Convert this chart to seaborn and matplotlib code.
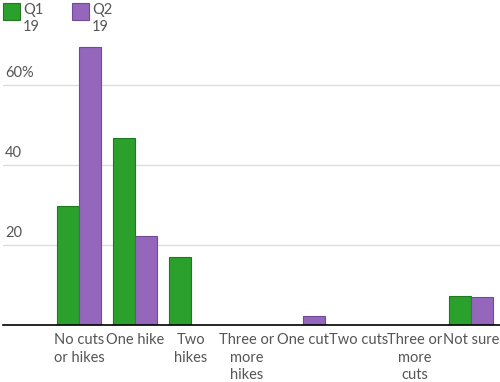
import matplotlib
matplotlib.use("Agg")
import matplotlib.pyplot as plt
import matplotlib.transforms as mtransforms
from matplotlib.patches import Rectangle
import seaborn as sns
import pandas as pd

categories = ["No cuts\nor hikes", "One hike", "Two\nhikes", "Three or\nmore\nhikes",
              "One cut", "Two cuts", "Three or\nmore\ncuts", "Not sure"]
q1_values = [29.8, 46.8, 17.0, 0, 0, 0, 0, 7.3]
q2_values = [69.5, 22.3, 0, 0, 2.3, 0, 0, 6.9]
series = ["Q1 19", "Q2 19"]
colors = ["#2ca02c", "#9467bd"]
edges = ["#1f7a1f", "#6f4a96"]
yticks = [20, 40, 60]
ytick_labels = ["20", "40", "60%"]

df = pd.DataFrame({
    "answer": categories * 2,
    "value": q1_values + q2_values,
    "quarter": [series[0]] * len(categories) + [series[1]] * len(categories),
})

sns.set_style("white")
plt.rcParams["font.family"] = ["Lato", "DejaVu Sans"]
text_color = "#555555"

fig = plt.figure(figsize=(5, 3.82), dpi=100)
ax = fig.add_axes([0.006, 57 / 382, 0.994, 288 / 382])

sns.barplot(data=df, x="answer", y="value", hue="quarter", palette=colors,
            width=0.786, ax=ax, legend=False, saturation=1)

for cont, ec in zip(ax.containers, edges):
    for bar in cont:
        if bar.get_height() > 0:
            bar.set_edgecolor(ec)
            bar.set_linewidth(0.8)
        else:
            bar.set_linewidth(0)

ax.set_xlim(-1.357, 7.52)
ax.set_ylim(0, 72)
ax.set_yticks(yticks)
ax.set_yticklabels([])
ax.tick_params(axis="y", length=0)
ax.yaxis.grid(True, color="#dddddd", linewidth=1)
ax.set_axisbelow(True)
for s in ["top", "right", "left"]:
    ax.spines[s].set_visible(False)
ax.spines["bottom"].set_color("black")
ax.spines["bottom"].set_linewidth(1.2)

trans = mtransforms.blended_transform_factory(ax.transAxes, ax.transData)
for v, lab in zip(yticks, ytick_labels):
    ax.text(0.004, v + 1.2, lab, transform=trans, ha="left", va="bottom",
            fontsize=10.5, color=text_color)

ax.set_xlabel("")
ax.set_ylabel("")
ax.tick_params(axis="x", length=0, pad=6)
ax.set_xticks(range(len(categories)))
ax.set_xticklabels(categories, fontsize=10.5, color=text_color, linespacing=1.3)

# legend
for i, (name, c, ec) in enumerate(zip(series, colors, edges)):
    x0 = 3 + i * 69
    fig.patches.append(Rectangle((x0 / 500, 1 - 20 / 382), 17 / 500, 17 / 382,
                                 transform=fig.transFigure, facecolor=c,
                                 edgecolor=ec, linewidth=0.8))
    q, yr = name.split()
    fig.text((x0 + 20) / 500, 1 - 3 / 382, q + "\n" + yr, ha="left", va="top",
             fontsize=10.5, color=text_color, linespacing=1.3)

fig.savefig("out.png", dpi=100)
